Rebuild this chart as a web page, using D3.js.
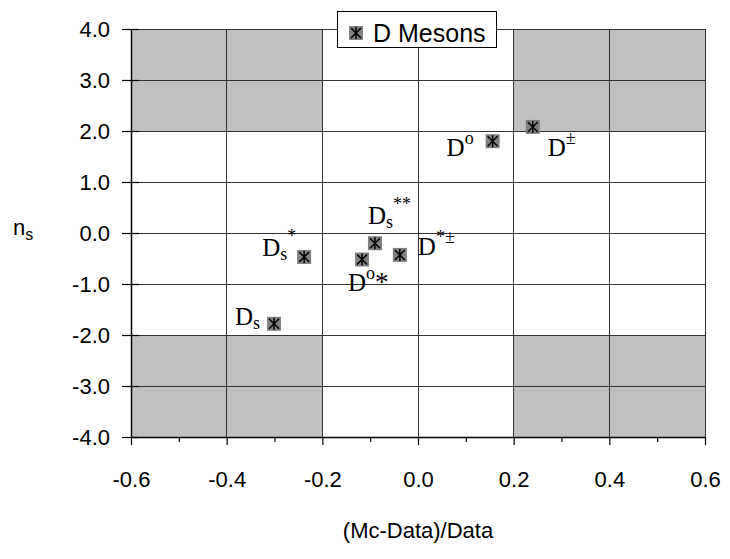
<!DOCTYPE html>
<html><head><meta charset="utf-8">
<script src="https://cdn.jsdelivr.net/npm/d3@7"></script>
<style>body{margin:0;background:#fff}svg{display:block}</style>
</head><body>
<svg id="c" width="730" height="559"></svg>
<script>
// Data
const xValues = [0.156, 0.240, -0.238, -0.090, -0.117, -0.038, -0.301];
const yValues = [1.80, 2.08, -0.47, -0.20, -0.52, -0.43, -1.78];
const labelBase = ["D", "D", "D", "D", "D", "D", "D"];
const labelSub = ["", "", "s", "s", "", "", "s"];
const labelSup = ["o", "±", "*", "**", "o", "*±", ""];
const labelTail = ["", "", "", "", "*", "", ""];
const xTicks = [-0.6, -0.4, -0.2, 0.0, 0.2, 0.4, 0.6];
const xMinorTicks = [-0.5, -0.3, -0.1, 0.1, 0.3, 0.5];
const yTicks = [4, 3, 2, 1, 0, -1, -2, -3, -4];
const shadedX = [[-0.6, -0.2], [0.2, 0.6]];
const shadedY = [[2, 4], [-4, -2]];
const seriesName = "D Mesons";
const xTitle = "(Mc-Data)/Data";

// label offsets in px relative to marker (layout)
const labelDx = [-46, 15, -42, -7, -14, 18, -39];
const labelDy = [15, 29, -1, -19, 31, 0, 1];

const svg = d3.select("#c");
const x = d3.scaleLinear().domain([-0.6, 0.6]).range([131, 705]);
const y = d3.scaleLinear().domain([-4, 4]).range([437, 29]);
const fmt = v => d3.format(".1f")(v).replace("\u2212", "-");
const SANS = "Liberation Sans, Arial, sans-serif";

// shaded regions
shadedX.forEach(sx => shadedY.forEach(sy => {
  svg.append("rect").attr("x", x(sx[0])).attr("y", y(sy[1]))
    .attr("width", x(sx[1]) - x(sx[0])).attr("height", y(sy[0]) - y(sy[1]))
    .attr("fill", "#c0c0c0");
}));

// gridlines
const g = svg.append("g").attr("stroke", "#333").attr("stroke-width", 1).attr("shape-rendering", "crispEdges");
xTicks.slice(1).forEach(v => g.append("line").attr("x1", x(v)).attr("x2", x(v)).attr("y1", y(4)).attr("y2", y(-4)));
yTicks.slice(0, -1).forEach(v => g.append("line").attr("x1", x(-0.6)).attr("x2", x(0.6)).attr("y1", y(v)).attr("y2", y(v)));

// axes
const xAxis = d3.axisBottom(x).tickValues(xTicks).tickFormat(fmt).tickSize(8).tickSizeOuter(0);
const gx = svg.append("g").attr("transform", `translate(0,${y(-4)})`).call(xAxis);
const xMinor = d3.axisBottom(x).tickValues(xMinorTicks).tickFormat("").tickSize(5).tickSizeOuter(0);
const gxm = svg.append("g").attr("transform", `translate(0,${y(-4)})`).call(xMinor);
gxm.select(".domain").remove();
const yAxis = d3.axisLeft(y).tickValues(yTicks).tickFormat(fmt).tickSize(9).tickSizeOuter(0);
const gy = svg.append("g").attr("transform", `translate(${x(-0.6)},0)`).call(yAxis);
gy.selectAll(".tick line").attr("x2", -9).attr("x1", 8);
[gx, gxm, gy].forEach(a => {
  a.selectAll(".domain").attr("stroke", "#000").attr("stroke-width", 1.5);
  a.selectAll(".tick line").attr("stroke", "#000").attr("stroke-width", 1.2);
  a.selectAll("text").attr("font-family", SANS).attr("font-size", 22).attr("fill", "#000");
});
gx.selectAll("text").attr("dy", null).attr("y", 50);
gy.selectAll("text").attr("x", -21).attr("dy", "0.36em");

// marker
function marker(sel, cx, cy) {
  const s = 14, a = 5;
  sel.append("rect").attr("x", cx - s / 2).attr("y", cy - s / 2).attr("width", s).attr("height", s).attr("fill", "#808080");
  const p = `M${cx - a},${cy - a}L${cx + a},${cy + a}M${cx - a},${cy + a}L${cx + a},${cy - a}M${cx},${cy - a - 1}L${cx},${cy + a + 1}`;
  sel.append("path").attr("d", p).attr("stroke", "#000").attr("stroke-width", 1.5).attr("fill", "none");
}

const pts = svg.append("g");
xValues.forEach((v, i) => marker(pts, x(v), y(yValues[i])));

// labels
const lab = svg.append("g").attr("font-family", "Liberation Serif, Times New Roman, serif").attr("fill", "#000");
xValues.forEach((v, i) => {
  const t = lab.append("text").attr("x", x(v) + labelDx[i]).attr("y", y(yValues[i]) + labelDy[i]).attr("font-size", 25);
  t.append("tspan").text(labelBase[i]);
  if (labelSub[i]) t.append("tspan").attr("font-size", 18).attr("dy", 4).text(labelSub[i]);
  if (labelSup[i]) {
    t.append("tspan").attr("font-size", 18).attr("dy", labelSub[i] ? -18 : -12).text(labelSup[i]);
  }
  if (labelTail[i]) t.append("tspan").attr("font-size", 27).attr("dy", 12).text(labelTail[i]);
});

// axis titles
svg.append("text").attr("x", 418).attr("y", 538).attr("text-anchor", "middle")
  .attr("font-family", SANS).attr("font-size", 22).text(xTitle);
const yt = svg.append("text").attr("x", 13).attr("y", 235)
  .attr("font-family", SANS).attr("font-size", 22);
yt.append("tspan").text("n");
yt.append("tspan").attr("font-size", 16).attr("dy", 5).text("s");

// legend
const lg = svg.append("g");
lg.append("rect").attr("x", 337.5).attr("y", 11.5).attr("width", 159).attr("height", 36).attr("fill", "#fff").attr("stroke", "#000").attr("stroke-width", 1);
marker(lg, 356, 33);
lg.append("text").attr("x", 373).attr("y", 42).attr("font-family", SANS).attr("font-size", 25).text(seriesName);
</script>
</body></html>
